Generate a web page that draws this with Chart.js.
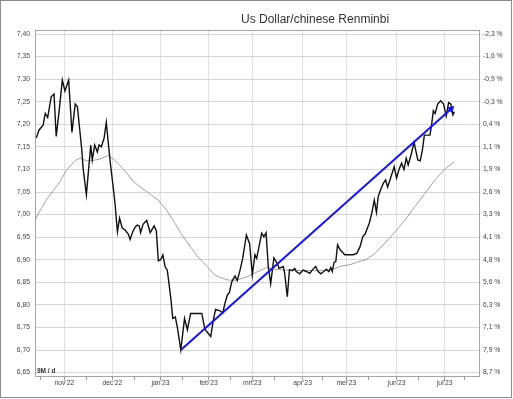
<!DOCTYPE html>
<html>
<head>
<meta charset="utf-8">
<script src="https://cdn.jsdelivr.net/npm/chart.js@4.4.1/dist/chart.umd.min.js"></script>
<style>
  html, body { margin: 0; padding: 0; background: #fff; }
  #wrap { width: 513px; height: 399px; position: relative; }
</style>
</head>
<body>
<div id="wrap"><canvas id="c" width="513" height="399"></canvas></div>
<script>
// ---- data (x = trading-day index from 13 Oct 2022) ----
const priceDay = [0.2,1.4,3.3,4.3,5.4,7.0,8.3,9.3,10.6,12.1,13.3,15.0,16.5,18.0,19.0,21.0,21.6,23.1,25.1,25.8,26.9,28.1,28.9,29.9,31.2,32.2,34.0,36.1,37.3,38.3,
  39.5,40.8,42.3,43.1,44.3,45.4,46.4,47.3,47.9,49.1,50.7,52.3,54.1,55.1,56.0,57.1,58.1,59.1,60.1,60.7,61.8,62.6,63.8,64.8,66.3,68.0,69.3,70.8,75.9,77.3,80.0,
  81.2,82.2,84.2,85.5,86.5,87.6,88.5,89.6,91.1,92.1,93.4,94.6,96.3,97.8,99.0,100.2,101.0,103.3,104.3,105.3,106.3,107.4,108.9,110.6,111.2,113.2,113.8,115.0,116.0,
  117.3,118.4,119.1,120.7,122.2,123.7,125.3,126.4,128.0,129.1,130.3,131.7,132.9,134.0,134.9,135.6,136.4,137.2,138.0,139.2,141.3,145.1,146.8,148.3,149.5,150.6,
  152.5,153.6,154.8,155.8,156.6,157.9,158.9,160.0,160.9,162.0,163.9,165.0,166.1,167.3,168.4,169.4,170.3,171.6,173.0,174.7,175.8,176.8,177.7,180.3,181.1,181.8,
  182.6,183.8,185.2,186.5,187.7,188.8,189.8,190.8,191.4];
const priceVal = [7.170,7.187,7.198,7.224,7.215,7.261,7.267,7.173,7.228,7.298,7.274,7.298,7.182,7.245,7.239,7.143,7.103,7.044,7.154,7.121,7.154,7.139,7.154,7.150,7.169,7.204,7.117,7.030,6.962,6.992,
  6.970,6.966,6.957,6.945,6.962,6.972,6.977,6.975,6.960,6.979,6.987,6.960,6.975,6.964,6.898,6.900,6.911,6.885,6.877,6.855,6.811,6.770,6.773,6.748,6.700,6.770,6.745,6.781,6.781,6.746,6.730,
  6.767,6.790,6.787,6.782,6.804,6.822,6.827,6.851,6.864,6.854,6.877,6.903,6.955,6.935,6.866,6.911,6.903,6.959,6.951,6.960,6.885,6.847,6.904,6.890,6.881,6.885,6.870,6.818,6.878,
  6.876,6.881,6.874,6.869,6.877,6.874,6.870,6.877,6.885,6.874,6.869,6.874,6.879,6.874,6.883,6.874,6.894,6.896,6.933,6.922,6.911,6.911,6.914,6.929,6.951,6.957,
  6.981,7.002,7.032,7.005,7.040,7.058,7.069,7.077,7.061,7.077,7.106,7.081,7.100,7.114,7.100,7.125,7.110,7.132,7.160,7.121,7.119,7.143,7.176,7.176,7.202,7.230,
  7.224,7.245,7.252,7.245,7.218,7.248,7.245,7.221,7.228];

const maDay = [-0.1,2.5,5.3,8.3,11.0,14.0,16.3,18.5,20.2,23.2,26.1,29.3,33.0,35.7,38.7,41.5,44.6,47.6,50.7,53.7,56.0,59.8,63.6,66.4,70.5,74.3,78.1,81.9,84.2,87.9,
  91.9,96.4,99.5,102.5,105.6,109.4,114.0,121.6,129.2,133.8,136.8,140.5,143.7,146.6,151.0,155.1,159.7,164.3,168.9,173.4,178.0,182.6,187.2,191.4];
const maVal = [6.990,7.014,7.036,7.055,7.073,7.099,7.111,7.121,7.125,7.119,7.120,7.123,7.131,7.122,7.108,7.092,7.073,7.062,7.051,7.040,7.032,7.010,6.981,6.958,6.930,6.905,6.886,6.866,6.861,6.855,
  6.855,6.862,6.869,6.876,6.883,6.879,6.877,6.876,6.876,6.876,6.881,6.887,6.889,6.894,6.900,6.914,6.937,6.962,6.988,7.018,7.047,7.077,7.101,7.117];

const trendDay = [66.3, 189.9];
const trendVal = [6.700, 7.234];

// ---- axis ticks ----
const monthDay = [13,35,57,79,99,122,142,165,187];
const monthLabels = ["nov'22","dec'22","jan'23","feb'23","mrt'23","apr'23","mei'23","jun'23","jul'23"];
const midMonthDay = [2,23,45,67,89,109,131,152,175,196];
const yTicks = [6.65,6.70,6.75,6.80,6.85,6.90,6.95,7.00,7.05,7.10,7.15,7.20,7.25,7.30,7.35,7.40];
const pctLabels = ["8,7 %","7,9 %","7,1 %","6,3 %","5,6 %","4,8 %","4,1 %","3,3 %","2,6 %","1,9 %","1,1 %","0,4 %","-0,3 %","-0,9 %","-1,6 %","-2,3 %"];

const title = "Us Dollar/chinese Renminbi";
const periodLabel = "9M / d";

const toPts = (xs, ys) => xs.map((x, i) => ({x: x, y: ys[i]}));

const Y_MIN = 6.6425, Y_MAX = 7.4089;
const tickFont = {family: "'Liberation Sans', Arial, sans-serif", size: 6.8};

const decor = {
  id: 'decor',
  beforeDraw(chart) {
    const ctx = chart.ctx;
    ctx.save();
    ctx.fillStyle = '#fff';
    ctx.fillRect(0, 0, chart.width, chart.height);
    ctx.restore();
  },
  afterDraw(chart) {
    const ctx = chart.ctx, a = chart.chartArea;
    ctx.save();
    ctx.strokeStyle = '#a6a6a6';
    ctx.lineWidth = 1;
    ctx.beginPath();
    ctx.moveTo(a.left, a.top + 0.5);
    ctx.lineTo(a.right, a.top + 0.5);
    ctx.stroke();
    ctx.strokeStyle = '#8c8c8c';
    ctx.strokeRect(0.5, 0.5, chart.width - 2, chart.height - 2);
    ctx.fillStyle = '#333';
    ctx.font = "12px 'Liberation Sans', Arial, sans-serif";
    ctx.textBaseline = 'alphabetic';
    ctx.textAlign = 'left';
    ctx.fillText(title, 241, 23);
    ctx.font = "bold 6.5px 'Liberation Sans', Arial, sans-serif";
    ctx.fillStyle = '#333';
    ctx.fillText(periodLabel, a.left + 2, a.bottom - 3);
    ctx.restore();
  }
};

new Chart(document.getElementById('c'), {
  type: 'line',
  data: {
    datasets: [
      {
        label: 'trend',
        data: toPts(trendDay, trendVal),
        borderColor: '#1414f5',
        backgroundColor: '#1414f5',
        borderWidth: 2,
        pointStyle: 'triangle',
        pointRadius: [0, 3.6],
        pointRotation: 48,
        pointBorderWidth: 1,
        pointBorderColor: '#1414f5',
        pointBackgroundColor: '#1414f5',
        tension: 0
      },
      {
        label: 'koers',
        data: toPts(priceDay, priceVal),
        borderColor: '#111',
        borderWidth: 1.4,
        pointRadius: 0,
        tension: 0
      },
      {
        label: 'gemiddelde',
        data: toPts(maDay, maVal),
        borderColor: '#8a8a8a',
        borderWidth: 0.8,
        pointRadius: 0,
        tension: 0
      }
    ]
  },
  options: {
    responsive: false,
    animation: false,
    events: [],
    layout: {padding: {top: 30, left: 0, right: 0, bottom: 0}},
    plugins: {legend: {display: false}, title: {display: false}, tooltip: {enabled: false}},
    scales: {
      x: {
        type: 'linear',
        min: -0.4,
        max: 202.7,
        afterBuildTicks: s => {
          s.ticks = monthDay.concat(midMonthDay).sort((a, b) => a - b).map(v => ({value: v}));
        },
        afterFit: s => { s.height = 23; },
        ticks: {
          autoSkip: false,
          maxRotation: 0,
          padding: -1,
          color: '#444',
          font: tickFont,
          callback: v => {
            const i = monthDay.indexOf(v);
            return i >= 0 ? monthLabels[i] : '';
          }
        },
        grid: {
          color: c => (c.tick && monthDay.indexOf(c.tick.value) >= 0) ? '#e0e0e0' : 'rgba(0,0,0,0)',
          tickColor: '#9a9a9a',
          tickLength: 4,
          lineWidth: 1
        },
        border: {display: true, color: '#a6a6a6'}
      },
      y: {
        type: 'linear',
        position: 'left',
        min: Y_MIN,
        max: Y_MAX,
        afterBuildTicks: s => { s.ticks = yTicks.map(v => ({value: v})); },
        afterFit: s => { s.width = 35; },
        ticks: {
          padding: 5,
          color: '#444',
          font: tickFont,
          callback: v => v.toFixed(2).replace('.', ',')
        },
        grid: {color: '#d6d6d6', drawTicks: false, lineWidth: 1},
        border: {display: true, color: '#a6a6a6'}
      },
      y1: {
        type: 'linear',
        position: 'right',
        min: Y_MIN,
        max: Y_MAX,
        afterBuildTicks: s => { s.ticks = yTicks.map(v => ({value: v})); },
        afterFit: s => { s.width = 34; },
        ticks: {
          padding: 4,
          color: '#444',
          font: tickFont,
          callback: (v, i) => pctLabels[i]
        },
        grid: {drawOnChartArea: false, drawTicks: false},
        border: {display: true, color: '#a6a6a6'}
      }
    }
  },
  plugins: [decor]
});
</script>
</body>
</html>
